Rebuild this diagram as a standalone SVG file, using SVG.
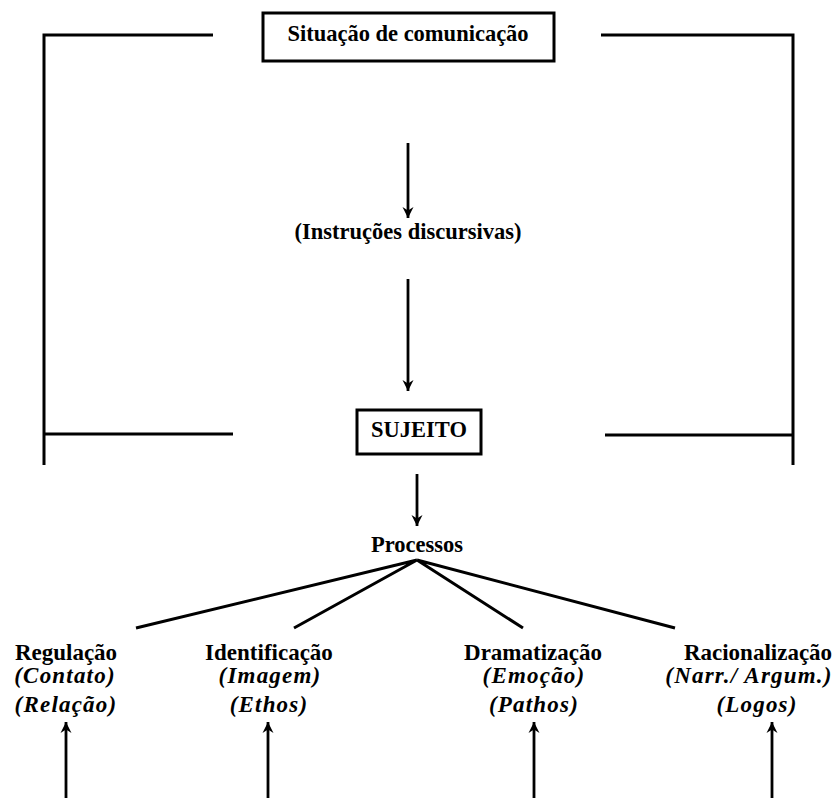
<svg xmlns="http://www.w3.org/2000/svg" width="835" height="798" viewBox="0 0 835 798">
<style>
.ln{stroke:#000;stroke-width:3;fill:none}
.ar{stroke:#000;stroke-width:2.8;fill:none;marker-end:url(#ah)}
.box{fill:#fff;stroke:#000;stroke-width:3}
.t{font-family:"Liberation Serif","Times New Roman",serif;font-weight:bold;font-size:22.5px;text-anchor:middle;fill:#000}
.lb{font-size:23px}
.it{font-style:italic;letter-spacing:1.2px}
</style>
<defs>
<marker id="ah" markerUnits="userSpaceOnUse" markerWidth="12" markerHeight="12" refX="11" refY="6" orient="auto" viewBox="0 0 12 12">
<polygon points="0,0.5 11,6 0,11.5 3.5,6" fill="#000"/>
</marker>
</defs>
<rect width="835" height="798" fill="#fff"/>
<g id="connectors">
<path class="ln" d="M213,35 H44 V465"/>
<path class="ln" d="M44,434 H233"/>
<path class="ln" d="M601,35 H793 V465"/>
<path class="ln" d="M605,435 H793"/>
<line class="ar" x1="408" y1="143" x2="408" y2="218"/>
<line class="ar" x1="408" y1="279" x2="408" y2="391"/>
<line class="ar" x1="417" y1="474" x2="417" y2="526"/>
<path class="ln" d="M417,560 L136,628 M417,560 L294,628 M417,560 L523,628 M417,560 L675,628"/>
<line class="ar" x1="66" y1="798" x2="66" y2="722"/>
<line class="ar" x1="268" y1="798" x2="268" y2="722"/>
<line class="ar" x1="534" y1="798" x2="534" y2="722"/>
<line class="ar" x1="772" y1="798" x2="772" y2="722"/>
</g>
<g id="situacao">
<rect class="box" x="263" y="13" width="291" height="48"/>
<text class="t" x="408" y="41">Situação de comunicação</text>
</g>
<g id="instrucoes">
<text class="t" x="408" y="239">(Instruções discursivas)</text>
</g>
<g id="sujeito">
<rect class="box" x="357" y="410" width="124" height="44"/>
<text class="t" x="419" y="437">SUJEITO</text>
</g>
<g id="processos">
<text class="t" x="417" y="552">Processos</text>
</g>
<g id="regulacao">
<text class="t lb" x="66" y="660">Regulação</text>
<text class="t lb it" x="65" y="683">(Contato)</text>
<text class="t lb it" x="66" y="712">(Relação)</text>
</g>
<g id="identificacao">
<text class="t lb" x="269" y="660">Identificação</text>
<text class="t lb it" x="270" y="683">(Imagem)</text>
<text class="t lb it" x="269" y="712">(Ethos)</text>
</g>
<g id="dramatizacao">
<text class="t lb" x="533" y="660">Dramatização</text>
<text class="t lb it" x="534" y="683">(Emoção)</text>
<text class="t lb it" x="534" y="712">(Pathos)</text>
</g>
<g id="racionalizacao">
<text class="t lb" x="758" y="660">Racionalização</text>
<text class="t lb it" x="749" y="683">(Narr./ Argum.)</text>
<text class="t lb it" x="757" y="712">(Logos)</text>
</g>
</svg>
